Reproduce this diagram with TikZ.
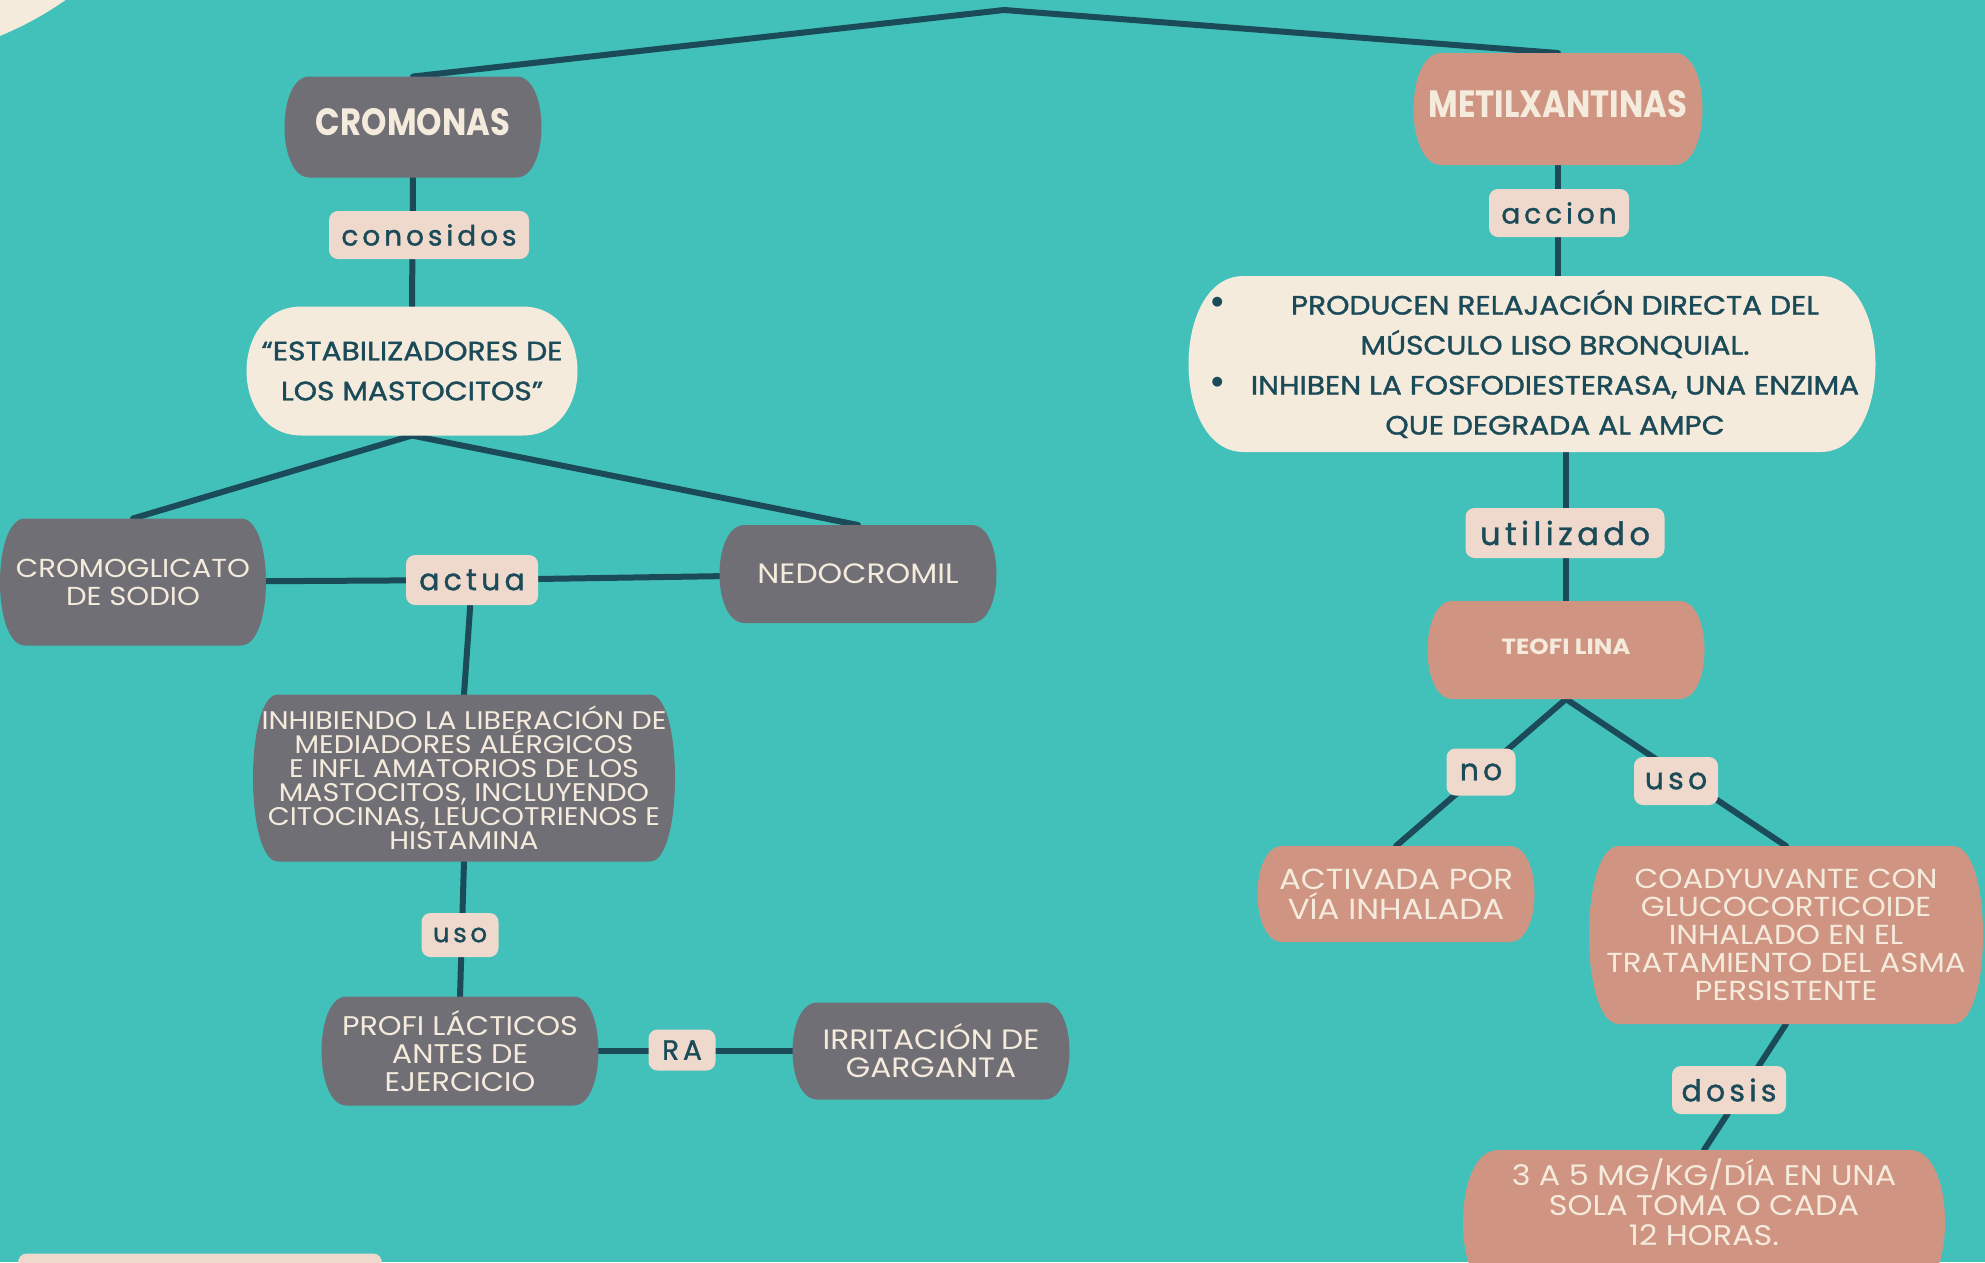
\documentclass[tikz,border=0pt]{standalone}
\usepackage{fontspec}
\setmainfont{Poppins}
\newfontfamily\labfont[LetterSpace=14,FakeBold=1.2]{Poppins}
\newfontfamily\wfont[FakeStretch=1.12]{Poppins}
\newfontfamily\dfont[FakeStretch=1.12,FakeBold=1.4]{Poppins}
\newfontfamily\hfont[FakeStretch=0.85]{Poppins}
\newfontfamily\tfont[FakeStretch=1.12]{Poppins}
\definecolor{teal1}{HTML}{42C1BA}
\definecolor{gray1}{HTML}{716F76}
\definecolor{salmon1}{HTML}{D09483}
\definecolor{cream1}{HTML}{F5EBDC}
\definecolor{lab1}{HTML}{EFD9CC}
\definecolor{dark1}{HTML}{1B4B59}
\pgfdeclarelayer{bg}
\pgfdeclarelayer{lines}
\pgfdeclarelayer{shapes}
\pgfsetlayers{bg,lines,shapes,main}
\newcommand\barrel[3]{%
 \fill[#2] ([xshift=#3pt]#1.north west) -- ([xshift=-#3pt]#1.north east)
  .. controls ([xshift=#3pt/3]#1.north east) and ([xshift=#3pt/3]#1.south east) .. ([xshift=-#3pt]#1.south east)
  -- ([xshift=#3pt]#1.south west)
  .. controls ([xshift=-#3pt/3]#1.south west) and ([xshift=-#3pt/3]#1.north west) .. cycle;}
\newcommand\fs[2]{\fontsize{#1}{#2}\selectfont}
\begin{document}
\begin{tikzpicture}[x=1pt,y=-1pt,
 conn/.style={draw=dark1, line width=6pt, line cap=round},
 shp/.style={inner sep=0pt, outer sep=0pt, align=center, text=cream1},
 lab/.style={fill=lab1, rounded corners=9pt, inner sep=0pt, text=dark1},
 head/.style={shp, text depth=10pt, font={\hfont\bfseries\fs{38}{38}}},
]
\useasboundingbox (0,0) rectangle (1985,1262);
\begin{pgfonlayer}{bg}
\fill[teal1] (0,0) rectangle (1985,1262);
\fill[cream1] (-130,-280) circle[radius=341.5pt];
\end{pgfonlayer}

% ---- left branch
\node[head, minimum width=257pt, minimum height=101pt] (crom) at (413,127) {CROMONAS};
\node[shp, minimum width=331pt, minimum height=129pt, text=dark1, font={\dfont\fs{26.5}{40}}] (est) at (412,371) {“ESTABILIZADORES DE\\LOS MASTOCITOS”};
\node[shp, minimum width=266pt, minimum height=127pt, font={\wfont\fs{26}{28}}] (crom2) at (133,582) {CROMOGLICATO\\DE SODIO};
\node[shp, minimum width=277pt, minimum height=98pt, font={\wfont\fs{28}{28}}] (nedo) at (858,574) {NEDOCROMIL};
\node[shp, minimum width=422pt, minimum height=167pt, font={\wfont\fs{25.5}{24}}] (inhib) at (464,778) {INHIBIENDO LA LIBERACIÓN DE\\MEDIADORES ALÉRGICOS\\E INFL AMATORIOS DE LOS\\MASTOCITOS, INCLUYENDO\\CITOCINAS, LEUCOTRIENOS E\\HISTAMINA};
\node[shp, minimum width=277pt, minimum height=109pt, font={\wfont\fs{27}{28}}] (profi) at (460,1051) {PROFI LÁCTICOS\\ANTES DE\\EJERCICIO};
\node[shp, minimum width=277pt, minimum height=97pt, font={\wfont\fs{28}{28}}] (irrit) at (931,1051) {IRRITACIÓN DE\\GARGANTA};

% ---- right branch
\node[head, minimum width=289pt, minimum height=112pt] (metil) at (1558,109) {METILXANTINAS};
\node[shp, minimum width=687pt, minimum height=176pt] (prod) at (1532,364) {};
\node[shp, text=dark1, font={\dfont\fs{26.5}{40}}] (prodtxt) at (1555,364) {PRODUCEN RELAJACIÓN DIRECTA DEL\\MÚSCULO LISO BRONQUIAL.\\INHIBEN LA FOSFODIESTERASA, UNA ENZIMA\\QUE DEGRADA AL AMPC};
\node[text=dark1, inner sep=0pt, font={\fs{40}{40}}] (b1) at (1218,306) {•};
\node[text=dark1, inner sep=0pt, font={\fs{40}{40}}] (b2) at (1218,386) {•};
\node[shp, minimum width=277pt, minimum height=98pt, text depth=6pt, font={\tfont\bfseries\fs{22}{22}}] (teo) at (1566,650) {TEOFI LINA};
\node[shp, minimum width=277pt, minimum height=96pt, font={\wfont\fs{29}{30}}] (act) at (1396,894) {ACTIVADA POR\\VÍA INHALADA};
\node[shp, minimum width=394pt, minimum height=178pt, font={\wfont\fs{27.5}{28}}] (coad) at (1786,935) {COADYUVANTE CON\\GLUCOCORTICOIDE\\INHALADO EN EL\\TRATAMIENTO DEL ASMA\\PERSISTENTE};
\node[shp, minimum width=482pt, minimum height=144pt] (dose) at (1704,1222) {};
\node[shp, font={\wfont\fs{28.4}{30}}] (dosetxt) at (1704,1202) {3 A 5 MG/KG/DÍA EN UNA\\SOLA TOMA O CADA\\12 HORAS.};

% ---- labels
\node[lab, minimum width=200pt, minimum height=48pt, font={\labfont\fs{28}{28}}] (l1) at (429,235) {conosidos};
\node[lab, minimum width=132pt, minimum height=50pt, font={\labfont\fs{30}{30}}] (actua) at (472,580) {actua};
\node[lab, minimum width=77pt, minimum height=44pt, font={\labfont\fs{26}{26}}] (l3) at (460,935) {uso};
\node[lab, minimum width=67pt, minimum height=41pt, font={\labfont\fs{28}{28}}] (l4) at (682,1050) {RA};
\node[lab, minimum width=140pt, minimum height=48pt, font={\labfont\fs{28}{28}}] (l5) at (1559,213) {accion};
\node[lab, minimum width=199pt, minimum height=50pt, font={\labfont\fs{32}{32}}] (l6) at (1565,533) {utilizado};
\node[lab, minimum width=69pt, minimum height=47pt, font={\labfont\fs{30}{30}}] (l7) at (1481,772) {no};
\node[lab, minimum width=84pt, minimum height=48pt, font={\labfont\fs{30}{30}}] (l8) at (1676,781) {uso};
\node[lab, minimum width=114pt, minimum height=48pt, font={\labfont\fs{30}{30}}] (l9) at (1729,1090) {dosis};
\node[lab, minimum width=364pt, minimum height=47pt] (foot) at (200,1277) {};

\coordinate (apex) at (1004,10);

\begin{pgfonlayer}{shapes}
\barrel{crom}{gray1}{25}
\barrel{est}{cream1}{55}
\barrel{crom2}{gray1}{25}
\barrel{nedo}{gray1}{25}
\barrel{inhib}{gray1}{25}
\barrel{profi}{gray1}{25}
\barrel{irrit}{gray1}{25}
\barrel{metil}{salmon1}{28}
\barrel{prod}{cream1}{55}
\barrel{teo}{salmon1}{25}
\barrel{act}{salmon1}{25}
\barrel{coad}{salmon1}{30}
\barrel{dose}{salmon1}{35}
\end{pgfonlayer}

\begin{pgfonlayer}{lines}
\draw[conn] (crom.north) -- (apex) -- (metil.north);
\draw[conn] (crom.south) -- (est.north);
\draw[conn] (est.south) -- (crom2.north);
\draw[conn] (est.south) -- (nedo.north);
\draw[conn] (crom2) -- (actua);
\draw[conn] (actua) -- (nedo);
\draw[conn] (actua) -- (inhib.north);
\draw[conn] (inhib.south) -- (profi.north);
\draw[conn] (profi) -- (irrit);
\draw[conn] (metil.south) -- (metil.south |- prod.north);
\draw[conn] (teo.north |- prod.south) -- (teo.north);
\draw[conn] (teo.south) -- (act.north);
\draw[conn] (teo.south) -- (coad.north);
\draw[conn] (coad.south) -- (dose.north);
\end{pgfonlayer}
\end{tikzpicture}
\end{document}
